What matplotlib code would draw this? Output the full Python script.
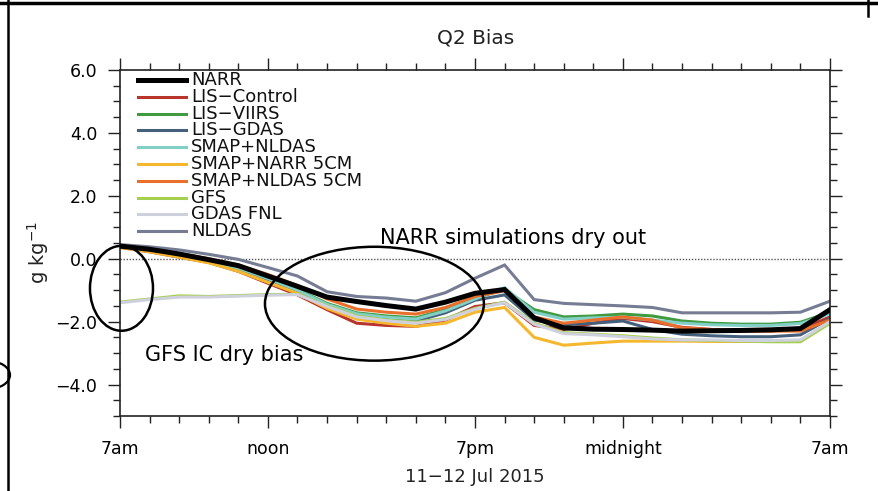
import matplotlib
matplotlib.use("Agg")
import matplotlib.pyplot as plt
from matplotlib.patches import Ellipse
from matplotlib.lines import Line2D

# ---------------- data ----------------
hours = list(range(25))  # hours after 7am, 11 Jul 2015

narr = [0.40, 0.30, 0.15, -0.03, -0.22, -0.55, -0.88, -1.22, -1.36, -1.49, -1.60, -1.38, -1.10,
        -0.98, -1.88, -2.20, -2.24, -2.25, -2.27, -2.30, -2.29, -2.28, -2.26, -2.22, -1.62]
lis_control = [0.36, 0.22, 0.05, -0.12, -0.40, -0.78, -1.15, -1.62, -2.05, -2.12, -2.15, -1.95, -1.52,
               -1.40, -2.12, -2.25, -2.05, -1.90, -2.00, -2.18, -2.25, -2.30, -2.30, -2.25, -1.85]
lis_viirs = [0.38, 0.26, 0.10, -0.07, -0.30, -0.62, -0.98, -1.42, -1.72, -1.82, -1.88, -1.62, -1.25,
             -0.98, -1.62, -1.85, -1.82, -1.76, -1.82, -1.98, -2.05, -2.08, -2.08, -2.02, -1.70]
lis_gdas = [0.40, 0.27, 0.10, -0.10, -0.32, -0.66, -1.02, -1.48, -1.78, -1.88, -1.98, -1.72, -1.32,
            -1.15, -1.95, -2.10, -2.05, -1.98, -2.25, -2.40, -2.45, -2.48, -2.48, -2.42, -1.90]
smap_nldas = [0.40, 0.27, 0.11, -0.08, -0.30, -0.63, -1.00, -1.45, -1.75, -1.86, -1.92, -1.66, -1.28,
              -0.92, -1.70, -1.92, -1.88, -1.86, -1.95, -2.05, -2.10, -2.12, -2.12, -2.06, -1.75]
smap_narr_5cm = [0.36, 0.22, 0.05, -0.13, -0.40, -0.75, -1.10, -1.58, -1.92, -2.05, -2.15, -2.05, -1.70,
                 -1.55, -2.50, -2.75, -2.68, -2.62, -2.62, -2.62, -2.63, -2.63, -2.63, -2.62, -2.00]
smap_nldas_5cm = [0.41, 0.31, 0.16, 0.00, -0.20, -0.50, -0.85, -1.28, -1.60, -1.70, -1.76, -1.55, -1.20,
                  -1.02, -1.85, -2.05, -1.95, -1.85, -1.95, -2.20, -2.25, -2.28, -2.30, -2.30, -1.95]
gfs = [-1.38, -1.28, -1.18, -1.20, -1.17, -1.14, -1.13, -1.50, -1.82, -1.95, -2.02, -1.90, -1.58,
       -1.38, -2.05, -2.35, -2.40, -2.45, -2.52, -2.58, -2.60, -2.62, -2.64, -2.64, -2.05]
gdas_fnl = [-1.40, -1.30, -1.22, -1.22, -1.19, -1.16, -1.14, -1.52, -1.85, -1.97, -2.05, -1.93, -1.60,
            -1.40, -2.08, -2.38, -2.42, -2.48, -2.55, -2.58, -2.58, -2.60, -2.60, -2.58, -2.00]
nldas = [0.45, 0.38, 0.28, 0.14, -0.02, -0.28, -0.55, -1.05, -1.20, -1.25, -1.35, -1.08, -0.62,
         -0.20, -1.30, -1.42, -1.46, -1.50, -1.55, -1.72, -1.72, -1.72, -1.72, -1.70, -1.35]

series_names = ["NARR", "LIS\u2212Control", "LIS\u2212VIIRS", "LIS\u2212GDAS", "SMAP+NLDAS",
                "SMAP+NARR 5CM", "SMAP+NLDAS 5CM", "GFS", "GDAS FNL", "NLDAS"]
series_values = [narr, lis_control, lis_viirs, lis_gdas, smap_nldas,
                 smap_narr_5cm, smap_nldas_5cm, gfs, gdas_fnl, nldas]
series_colors = ["#000000", "#b8352b", "#3f9a40", "#45607c", "#82cfc7",
                 "#f5b72e", "#e8702c", "#a6cf4f", "#cfd0de", "#767c94"]

xtick_pos = [0, 5, 12, 17, 24]
xtick_labels = ["7am", "noon", "7pm", "midnight", "7am"]
ytick_pos = [-4, -2, 0, 2, 4, 6]
ytick_labels = ["\u22124.0", "\u22122.0", "0.0", "2.0", "4.0", "6.0"]

# ---------------- figure ----------------
W, H = 879, 491
fig = plt.figure(figsize=(W / 100, H / 100), dpi=100)
fig.patch.set_facecolor("white")


def fx(px):
    return px / W


def fy(py):
    return 1 - py / H


ax = fig.add_axes([fx(120), fy(416), 710 / W, 346 / H])
ax.set_xlim(0, 24)
ax.set_ylim(-5, 6)

# zero reference line
ax.axhline(0, color="#555555", lw=1.0, ls=(0, (1, 1.2)), zorder=1)

# series (NARR on top)
order = list(range(1, len(series_values))) + [0]
for i in order:
    lw = 3.6 if i == 0 else 2.2
    ax.plot(hours, series_values[i], color=series_colors[i], lw=lw,
            solid_joinstyle="miter", zorder=3 if i == 0 else 2)

# ticks
ax.set_xticks(xtick_pos)
ax.set_xticklabels(xtick_labels)
ax.set_xticks(range(0, 25), minor=True)
ax.set_yticks(ytick_pos)
ax.set_yticklabels(ytick_labels)
ax.set_yticks([v * 0.5 for v in range(-10, 13)], minor=True)
ax.tick_params(which="both", direction="out", top=True, right=True,
               labeltop=False, labelright=False, width=1.0, color="#222222")
ax.tick_params(which="major", length=8.5)
ax.tick_params(which="minor", length=5)
ax.tick_params(axis="y", which="major", labelsize=12.5, pad=8)
ax.tick_params(axis="x", which="major", labelsize=12.5, pad=9)
for s in ax.spines.values():
    s.set_linewidth(1.2)
    s.set_color("#222222")

# legend (manual, positioned like the reference)
leg_y0 = 80
leg_dy = 16.8
for i, name in enumerate(series_names):
    y = leg_y0 + i * leg_dy
    lw = 3.6 if i == 0 else 2.2
    fig.add_artist(Line2D([fx(138), fx(186)], [fy(y), fy(y)], color=series_colors[i], lw=lw,
                          transform=fig.transFigure))
    fig.text(fx(191), fy(y), name, fontsize=13, va="center", ha="left", color="#111111")

# titles / labels
fig.text(fx(476), fy(38), "Q2 Bias", fontsize=14.5, ha="center", va="center", color="#222222")
fig.text(fx(475), fy(477), "11\u221212 Jul 2015", fontsize=13, ha="center", va="center", color="#222222")
fig.text(fx(38), fy(252), "g kg$^{-1}$", fontsize=14, rotation=90, ha="center", va="center",
         color="#222222")

# annotations
e1 = Ellipse((0.05, -0.94), 2.13, 2.7, fill=False, ec="black", lw=1.8, clip_on=False, zorder=5)
e2 = Ellipse((8.6, -1.43), 7.4, 3.62, fill=False, ec="black", lw=1.8, clip_on=False, zorder=5)
ax.add_patch(e1)
ax.add_patch(e2)
fig.text(fx(145), fy(355), "GFS IC dry bias", fontsize=15, ha="left", va="center", color="black")
fig.text(fx(380), fy(238), "NARR simulations dry out", fontsize=15, ha="left", va="center",
         color="black")

# outer frame fragments of the source page
fig.add_artist(Line2D([0, 1], [fy(3), fy(3)], color="black", lw=2.5, transform=fig.transFigure))
fig.add_artist(Line2D([fx(8), fx(8)], [0, 1], color="black", lw=1.8, transform=fig.transFigure))
fig.add_artist(Line2D([fx(868), fx(868)], [fy(0), fy(16)], color="black", lw=1.8,
                      transform=fig.transFigure))
fig.add_artist(Ellipse((fx(-12), fy(375)), 44 / W, 28 / H, fill=False, ec="black", lw=1.6,
                       transform=fig.transFigure))

fig.savefig("out.png", dpi=100, facecolor="white")
